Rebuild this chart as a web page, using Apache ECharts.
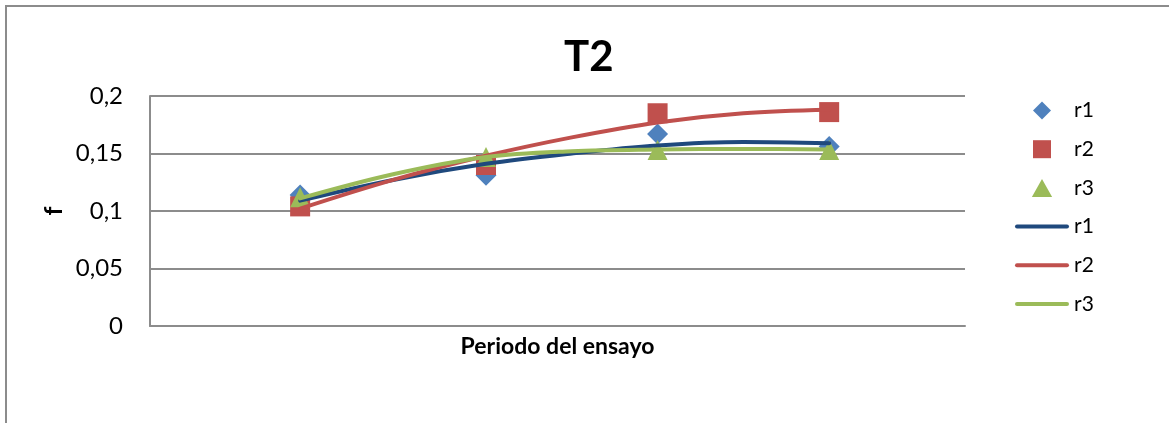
<!DOCTYPE html>
<html>
<head>
<meta charset="utf-8">
<script src="https://cdn.jsdelivr.net/npm/echarts@6/dist/echarts.min.js"></script>
<style>
  html, body { margin: 0; padding: 0; background: #fff; }
  #chart { width: 1169px; height: 423px; }
</style>
</head>
<body>
<div id="chart"></div>
<script>
// Measurement periods (x position of each sample, days)
const periodos = [10.5, 23.5, 35.5, 47.5];

// Measured f values per replicate
const r1 = [0.114, 0.131, 0.167, 0.156];
const r2 = [0.104, 0.140, 0.185, 0.186];
const r3 = [0.112, 0.147, 0.153, 0.153];

// Trend curves: positions along the period axis and fitted f values
const periodosAjuste = [10.5, 17, 23.5, 29.5, 35.5, 41.5, 47.5];
const ajusteR1 = [0.109, 0.127, 0.141, 0.150, 0.157, 0.160, 0.159];
const ajusteR2 = [0.102, 0.127, 0.148, 0.164, 0.177, 0.185, 0.188];
const ajusteR3 = [0.111, 0.132, 0.147, 0.152, 0.1535, 0.154, 0.1535];

// Y axis ticks
const yTicks = [0, 0.05, 0.1, 0.15, 0.2];

const FONT = 'Lato, "Open Sans", "DejaVu Sans", sans-serif';
const pair = (xs, ys) => xs.map((x, i) => [x, ys[i]]);

const markerSeries = [
  { name: 'r1', data: r1, symbol: 'diamond', size: 21, color: '#4F81BD',
    icon: 'path://M9,0 L18,9 L9,18 L0,9 Z' },
  { name: 'r2', data: r2, symbol: 'rect', size: 20, color: '#C0504D',
    icon: 'path://M0,0 L18,0 L18,18 L0,18 Z' },
  { name: 'r3', data: r3, symbol: 'triangle', size: 20, color: '#9BBB59',
    icon: 'path://M9,0 L18,16 L0,16 Z' }
];
const trendSeries = [
  { name: 'Polin. (r1)', data: ajusteR1, color: '#1F497D' },
  { name: 'Polin. (r2)', data: ajusteR2, color: '#C0504D' },
  { name: 'Polin. (r3)', data: ajusteR3, color: '#9BBB59' }
];
// Legend glyph for the trend curves: a short thick stroke with rounded ends
const LINE_ICON = 'path://M2,0 L52,0 A2,2 0 0 1 52,4 L2,4 A2,2 0 0 1 2,0 Z';

const series = [];
markerSeries.forEach((s, i) => {
  series.push({
    type: 'scatter', name: s.name, data: pair(periodos, s.data),
    symbol: s.symbol, symbolSize: s.size,
    itemStyle: { color: s.color, opacity: 1 }, z: 2 + i * 0.1, animation: false
  });
});
trendSeries.forEach((s, i) => {
  series.push({
    type: 'line', name: s.name, data: pair(periodosAjuste, s.data),
    smooth: 0.35, symbol: 'none',
    lineStyle: { color: s.color, width: 4, cap: 'round' },
    itemStyle: { color: s.color }, z: 3 + i * 0.1, animation: false
  });
});

const legendData = markerSeries.map(s => ({ name: s.name, icon: s.icon }))
  .concat(trendSeries.map(s => ({ name: s.name, icon: LINE_ICON })));

const chart = echarts.init(document.getElementById('chart'), null, { renderer: 'canvas' });
chart.setOption({
  animation: false,
  backgroundColor: '#fff',
  textStyle: { fontFamily: FONT },
  graphic: [{
    type: 'rect', silent: true, z: -10,
    shape: { x: 6, y: 6, width: 1300, height: 700 },
    style: { fill: 'none', stroke: '#8c8c8c', lineWidth: 2 }
  }, {
    // y-axis title, turned to read bottom-to-top
    type: 'text', silent: true, x: 54, y: 211, rotation: Math.PI / 2,
    style: {
      text: 'f', x: 0, y: 0, align: 'center', verticalAlign: 'middle',
      font: 'bold 25px ' + FONT, fill: '#000'
    }
  }],
  title: {
    text: 'T2', left: 564, top: 36, padding: 0,
    textStyle: { fontFamily: FONT, fontWeight: 'bold', fontSize: 42, color: '#000', lineHeight: 42 }
  },
  legend: {
    orient: 'vertical', left: 1015, top: 100, padding: 0,
    itemWidth: 54, itemHeight: 18, itemGap: 17.7, symbolKeepAspect: true,
    data: legendData,
    formatter: name => name.replace(/^Polin\. \((.*)\)$/, '$1'),
    textStyle: { fontFamily: FONT, fontSize: 21, color: '#000', lineHeight: 20 }
  },
  grid: { left: 150, right: 204, top: 96, bottom: 97, containLabel: false },
  xAxis: {
    type: 'value', min: 0, max: 57,
    name: 'Periodo del ensayo', nameLocation: 'middle', nameGap: 9,
    nameTextStyle: { fontFamily: FONT, fontWeight: 'bold', fontSize: 23, color: '#000' },
    axisLine: { show: true, onZero: false, lineStyle: { color: '#8c8c8c', width: 2 } },
    axisTick: { show: false }, axisLabel: { show: false }, splitLine: { show: false }
  },
  yAxis: {
    type: 'value', min: yTicks[0], max: yTicks[yTicks.length - 1], interval: yTicks[1] - yTicks[0],
    axisLine: { show: true, lineStyle: { color: '#8c8c8c', width: 2 } },
    axisTick: { show: false },
    axisLabel: {
      margin: 27, fontFamily: FONT, fontSize: 24, color: '#000',
      formatter: v => String(+v.toFixed(2)).replace('.', ',')
    },
    splitLine: { show: true, lineStyle: { color: '#8c8c8c', width: 2 } }
  },
  series
});
</script>
</body>
</html>
